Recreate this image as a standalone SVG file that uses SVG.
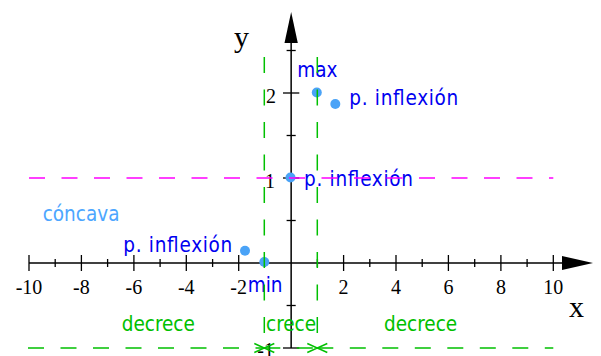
<svg xmlns="http://www.w3.org/2000/svg" width="601" height="356" viewBox="0 0 601 356">
<style>
.ax{stroke:#000;stroke-width:1.5;fill:none}
.tk{stroke:#000;stroke-width:1.3}
.num{font-family:"Liberation Serif","Times New Roman",serif;font-size:20px;fill:#000}
.var{font-family:"Liberation Serif","Times New Roman",serif;font-size:30px;fill:#000}
.lb,.lc,.lg{font-family:"DejaVu Sans Condensed","DejaVu Sans",Verdana,sans-serif;font-stretch:condensed;font-size:20.5px}
.lb{fill:#0000f0}
.lc{fill:#4da6ff}
.lg{fill:#00c000}
.dot{fill:#4aa3f7}
.gd{stroke:#00c000;stroke-width:1.5;stroke-dasharray:16 16.5;fill:none}
.md{stroke:#ff00ff;stroke-width:1.5;stroke-dasharray:16 16.5;fill:none}
</style>
<defs>
<marker id="chev" viewBox="-11 -6 12 12" markerWidth="12" markerHeight="12" refX="0" refY="0" orient="auto-start-reverse" markerUnits="userSpaceOnUse">
<path d="M-10,-4.5 L0,0 L-10,4.5" fill="none" stroke="#00c000" stroke-width="1.5"/>
</marker>
</defs>

<g id="axes">
<line class="ax" x1="29" y1="263" x2="563" y2="263"/>
<polygon points="562,256 593,263 562,270" fill="#000"/>
<line class="ax" x1="291.15" y1="348" x2="291.15" y2="42"/>
<polygon points="284.5,43 291.15,12 297.8,43" fill="#000"/>
<g class="tk">
<line x1="29" y1="255" x2="29" y2="271"/>
<line x1="55.2" y1="259" x2="55.2" y2="267"/>
<line x1="81.4" y1="255" x2="81.4" y2="271"/>
<line x1="107.6" y1="259" x2="107.6" y2="267"/>
<line x1="133.9" y1="255" x2="133.9" y2="271"/>
<line x1="160.1" y1="259" x2="160.1" y2="267"/>
<line x1="186.3" y1="255" x2="186.3" y2="271"/>
<line x1="212.6" y1="259" x2="212.6" y2="267"/>
<line x1="238.7" y1="255" x2="238.7" y2="271"/>
<line x1="264.9" y1="259" x2="264.9" y2="267"/>
<line x1="317.4" y1="259" x2="317.4" y2="267"/>
<line x1="343.6" y1="255" x2="343.6" y2="271"/>
<line x1="369.8" y1="259" x2="369.8" y2="267"/>
<line x1="396" y1="255" x2="396" y2="271"/>
<line x1="422.2" y1="259" x2="422.2" y2="267"/>
<line x1="448.4" y1="255" x2="448.4" y2="271"/>
<line x1="474.7" y1="259" x2="474.7" y2="267"/>
<line x1="500.9" y1="255" x2="500.9" y2="271"/>
<line x1="527.1" y1="259" x2="527.1" y2="267"/>
<line x1="553.3" y1="255" x2="553.3" y2="271"/>
<line x1="286.6" y1="50.5" x2="295.7" y2="50.5"/>
<line x1="283" y1="93" x2="299.3" y2="93"/>
<line x1="286.6" y1="135.5" x2="295.7" y2="135.5"/>
<line x1="283" y1="178" x2="299.3" y2="178"/>
<line x1="286.6" y1="220.5" x2="295.7" y2="220.5"/>
<line x1="286.6" y1="305.5" x2="295.7" y2="305.5"/>
<line x1="283" y1="348" x2="299.3" y2="348"/>
</g>
<g class="num" text-anchor="middle">
<text x="29" y="294">-10</text>
<text x="81.4" y="294">-8</text>
<text x="133.9" y="294">-6</text>
<text x="186.3" y="294">-4</text>
<text x="238.7" y="294">-2</text>
<text x="343.6" y="294">2</text>
<text x="396" y="294">4</text>
<text x="448.4" y="294">6</text>
<text x="500.9" y="294">8</text>
<text x="553.3" y="294">10</text>
</g>
<g class="num" text-anchor="end">
<text x="276" y="103">2</text>
<text x="275" y="187.5">1</text>
<text x="274" y="357">-1</text>
</g>
<text class="var" x="234" y="47">y</text>
<text class="var" x="569" y="316.5">x</text>
</g>

<g id="label-concava"><text class="lc" x="42.7" y="221">cóncava</text></g>
<g id="label-decrece-left"><text class="lg" x="121.7" y="330.7">decrece</text></g>
<g id="label-crece"><text class="lg" x="266" y="330.7">crece</text></g>
<g id="label-decrece-right"><text class="lg" x="384" y="330.5">decrece</text></g>

<g id="pt-max">
<circle class="dot" cx="316.8" cy="92.5" r="5"/>
<text class="lb" x="297.3" y="77">max</text>
</g>
<g id="pt-inflexion-right">
<circle class="dot" cx="335.3" cy="104" r="5"/>
<text class="lb" x="349.3" y="105" textLength="109">p. inflexión</text>
</g>
<g id="pt-inflexion-mid">
<circle class="dot" cx="290.5" cy="177.5" r="5"/>
<text class="lb" x="304" y="185.7" textLength="109">p. inflexión</text>
</g>
<g id="pt-inflexion-left">
<circle class="dot" cx="245" cy="250.7" r="5"/>
<text class="lb" x="123.3" y="251.7" textLength="109">p. inflexión</text>
</g>
<g id="pt-min">
<circle class="dot" cx="264.3" cy="262" r="5"/>
<text class="lb" x="247.7" y="291.7">min</text>
</g>

<g id="connectors">
<line class="md" x1="29" y1="178" x2="553.3" y2="178"/>
<line class="gd" x1="264.3" y1="57" x2="264.3" y2="333"/>
<line class="gd" x1="317.3" y1="57" x2="317.3" y2="333"/>
<line class="gd" x1="28" y1="348" x2="264.3" y2="348" marker-end="url(#chev)"/>
<line class="gd" x1="264.3" y1="348" x2="317.3" y2="348" marker-start="url(#chev)" marker-end="url(#chev)"/>
<line class="gd" x1="317.3" y1="348" x2="553.3" y2="348" marker-start="url(#chev)"/>
</g>
</svg>
